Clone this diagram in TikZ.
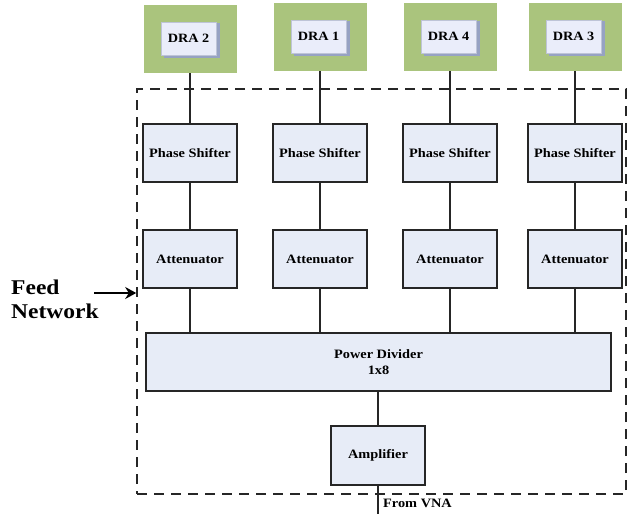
\documentclass[tikz,border=0pt]{standalone}
\usepackage{fontspec}
\setmainfont{Liberation Serif}[FakeStretch=1.12]
\usetikzlibrary{arrows.meta}
\definecolor{dragreen}{RGB}{170,196,125}
\definecolor{boxfill}{RGB}{231,236,247}
\definecolor{innerfill}{RGB}{234,237,250}
\definecolor{shadowc}{RGB}{150,162,195}
\definecolor{innerline}{RGB}{190,196,215}
\tikzset{
  blockbox/.style={draw=black!85, line width=1.4pt, fill=boxfill, inner sep=0pt,
    font=\bfseries\fontsize{12.8}{16.5}\selectfont, align=center},
  greenbox/.style={fill=dragreen, draw=none, inner sep=0pt},
  innerbox/.style={fill=innerfill, draw=innerline, line width=0.4pt, inner sep=0pt,
    font=\bfseries\fontsize{12.7}{14}\selectfont},
  wire/.style={line width=1.5pt, black!85},
}
\begin{document}
\begin{tikzpicture}[x=1pt,y=-1pt]
\useasboundingbox (0,0) rectangle (636,514);
% dashed feed network
\node[draw=black!85, line width=1.6pt, dash pattern=on 10pt off 7pt, minimum width=489pt, minimum height=405pt, inner sep=0pt] (feed) at (381.5,291.5) {};
% DRA elements
\foreach \n/\x/\yt/\lbl in {d2/190/5/DRA 2, d1/320/3/DRA 1, d4/450/3/DRA 4, d3/575/3/DRA 3}{
  \node[greenbox, minimum width=93pt, minimum height=68pt, anchor=north] (\n) at (\x,\yt) {};
  \fill[shadowc] (\x-26,\yt+18) rectangle (\x+30,\yt+53);
  \node[innerbox, minimum width=55pt, minimum height=33pt] (\n i) at (\x-1.5,\yt+33.5) {\lbl};
}
% phase shifters and attenuators
\foreach \n/\x in {1/190, 2/320, 3/450, 4/575}{
  \node[blockbox, minimum width=94pt, minimum height=58pt] (ps\n) at (\x,153) {Phase Shifter};
  \node[blockbox, minimum width=94pt, minimum height=58pt] (at\n) at (\x,259) {Attenuator};
}
\node[blockbox, minimum width=465pt, minimum height=58pt] (pd) at (378.5,362) {Power Divider\\1x8};
\node[blockbox, minimum width=94pt, minimum height=59pt] (amp) at (378,455.5) {Amplifier};
% wires
\draw[wire] (d2.south) -- (d2.south |- ps1.north);
\draw[wire] (d1.south) -- (d1.south |- ps2.north);
\draw[wire] (d4.south) -- (d4.south |- ps3.north);
\draw[wire] (d3.south) -- (d3.south |- ps4.north);
\foreach \n in {1,2,3,4}{
  \draw[wire] (ps\n.south) -- (at\n.north);
  \draw[wire] (at\n.south) -- (at\n.south |- pd.north);
}
\draw[wire] (pd.south -| amp.north) -- (amp.north);
\coordinate (vna) at (378,514);
\draw[wire] (amp.south) -- (vna);
\node[anchor=west, font=\bfseries\fontsize{12.8}{14}\selectfont, inner sep=0pt] (vnalbl) at (383,503) {From VNA};
% feed network label
\node[anchor=west, align=left, font=\bfseries\fontsize{21}{24}\selectfont, inner sep=0pt] (fnl) at (11,299) {Feed\\Network};
\coordinate (arrs) at (94,293);
\draw[line width=2.2pt, -{Stealth[length=11pt,width=12pt]}] (arrs) -- (arrs -| feed.west);
\end{tikzpicture}
\end{document}
